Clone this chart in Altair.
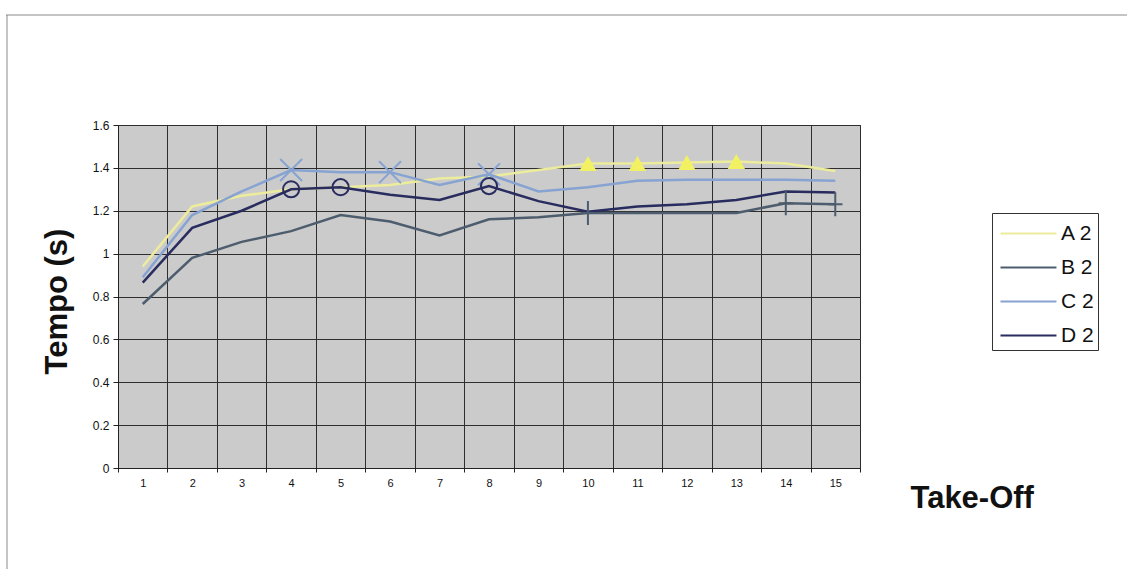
import altair as alt
import pandas as pd

# ---- data ----
takeoffs = list(range(1, 16))
series_names = ["A 2", "B 2", "C 2", "D 2"]
a2 = [0.94, 1.22, 1.27, 1.30, 1.31, 1.32, 1.35, 1.36, 1.39, 1.42, 1.42, 1.425, 1.43, 1.42, 1.385]
b2 = [0.765, 0.98, 1.055, 1.105, 1.18, 1.15, 1.085, 1.16, 1.17, 1.19, 1.19, 1.19, 1.19, 1.235, 1.23]
c2 = [0.89, 1.18, 1.29, 1.39, 1.38, 1.38, 1.32, 1.37, 1.29, 1.31, 1.34, 1.345, 1.345, 1.345, 1.34]
d2 = [0.865, 1.12, 1.20, 1.30, 1.31, 1.275, 1.25, 1.315, 1.245, 1.195, 1.22, 1.23, 1.25, 1.29, 1.285]
# take-offs on which each series shows a marker
markers_a = [10, 11, 12, 13]
markers_b = [10, 14, 15]
markers_c = [4, 6, 8]
markers_d = [4, 5, 8]
y_ticks = [0, 0.2, 0.4, 0.6, 0.8, 1.0, 1.2, 1.4, 1.6]

colors = ["#ecec9c", "#4d5d6e", "#87a3d1", "#292c5e"]

rows = []
for name, vals in zip(series_names, [a2, b2, c2, d2]):
    for t, v in zip(takeoffs, vals):
        rows.append({"take": t, "serie": name, "tempo": v})
df = pd.DataFrame(rows)


def subset(name, takes):
    return df[(df["serie"] == name) & (df["take"].isin(takes))]


x_enc = alt.X(
    "take:O",
    scale=alt.Scale(type="band", paddingInner=0, paddingOuter=0),
    axis=alt.Axis(
        title="Take-Off", tickBand="extent", labelAngle=0, labelFontSize=11,
        labelPadding=5, tickSize=4, titleX=792, titleY=30, titleAlign="left",
        titleBaseline="middle", titleFontSize=31,
    ),
)
y_enc = alt.Y(
    "tempo:Q",
    scale=alt.Scale(domain=[0, 1.6], nice=False, zero=True),
    axis=alt.Axis(
        title="Tempo (s)", values=y_ticks, format="~g", labelFontSize=12,
        labelPadding=4, tickSize=5, titleX=-61, titleY=176, titleAngle=270,
        titleAlign="center", titleBaseline="middle", titleFontSize=31,
    ),
)

lines = alt.Chart(df).mark_line(strokeWidth=2.5).encode(
    x=x_enc,
    y=y_enc,
    color=alt.Color(
        "serie:N",
        scale=alt.Scale(domain=series_names, range=colors),
        legend=alt.Legend(
            title=None, orient="none", legendX=874, legendY=88,
            symbolType="M-0.8,0H2.93", symbolSize=900, symbolStrokeWidth=2.2,
            symbolFillColor="transparent",
            labelFontSize=21, labelFont="Liberation Sans", labelColor="#111",
            padding=4, rowPadding=7, labelOffset=32, strokeColor="#333",
            fillColor="white", direction="vertical",
        ),
    ),
)

tri = alt.Chart(subset("A 2", markers_a)).mark_point(
    shape="triangle-up", filled=True, fill="#f1f163", stroke=None, size=300, opacity=1
).encode(x=x_enc, y=y_enc)

plus = alt.Chart(subset("B 2", markers_b)).mark_point(
    shape="M0,-1V1M-0.6,0H0.6", filled=False, stroke=colors[1], strokeWidth=2,
    size=576, opacity=1
).encode(x=x_enc, y=y_enc)

cross = alt.Chart(subset("C 2", markers_c)).mark_point(
    shape="M-1,-1L1,1M-1,1L1,-1", filled=False, stroke=colors[2], strokeWidth=2,
    size=480, opacity=1
).encode(x=x_enc, y=y_enc)

circ = alt.Chart(subset("D 2", markers_d)).mark_point(
    shape="circle", filled=False, stroke=colors[3], strokeWidth=2, size=260, opacity=1
).encode(x=x_enc, y=y_enc)

border_top = alt.Chart(alt.Data(values=[{}])).mark_rule(color="#8a8a8a", strokeWidth=1).encode(
    x=alt.value(-112), x2=alt.value(1009), y=alt.value(-110)
)
border_left = alt.Chart(alt.Data(values=[{}])).mark_rule(color="#8a8a8a", strokeWidth=1).encode(
    x=alt.value(-111), y=alt.value(-110), y2=alt.value(444)
)

chart = (
    alt.layer(lines, tri, plus, cross, circ, border_top, border_left)
    .properties(
        width=742, height=343,
        padding={"left": 118, "top": 125, "right": 267, "bottom": 101},
        autosize=alt.AutoSizeParams(type="none"),
        background="white",
    )
    .configure_view(fill="#cbcbcb", stroke="#333333", strokeWidth=1)
    .configure_axis(
        labelFont="Liberation Sans", titleFont="Liberation Sans",
        titleFontWeight="bold", titleColor="#111", labelColor="#111",
        gridColor="#2e2e2e", gridWidth=1, domainColor="#222", tickColor="#222",
        grid=True,
    )
)

chart.save("out.html", embed_options={"renderer": "svg", "actions": False})
